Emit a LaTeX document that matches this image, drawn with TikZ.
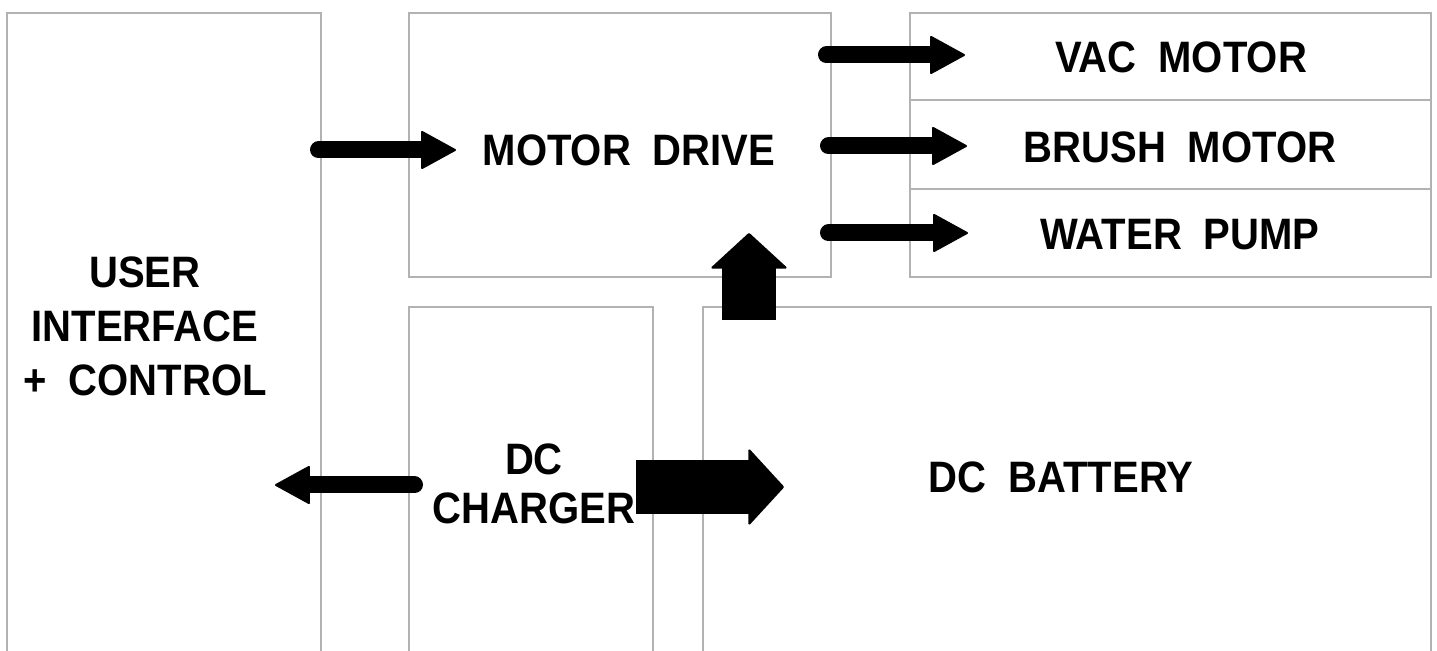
\documentclass[tikz,border=0pt]{standalone}
\usepackage{fontspec}
\newfontfamily\blockfont[FakeStretch=0.91]{Liberation Sans}
\usepackage{tikz}
\usetikzlibrary{
	arrows.meta,
	positioning
}
\definecolor{BoxGray}{RGB}{178,178,178}
\newcommand{\wgap}{\hspace{11pt}}

\begin{document}
\begin{tikzpicture}[x=0.5pt, y=-0.5pt,
	box/.style={draw=BoxGray, line width=1pt, inner sep=0pt, outer sep=0pt, anchor=north west},
	blocktext/.style={font=\blockfont\bfseries\fontsize{22}{27}\selectfont, align=center, inner sep=0pt},
	thinarrow/.style={line width=8.5pt, line cap=round, -{Triangle[length=18pt, width=19.5pt, round, line width=1pt]}},
	fatarrow/.style={line width=27pt, -{Triangle[length=18pt, width=39pt, round, line width=1pt]}}]
			\useasboundingbox (0,0) rectangle (1437,651);
			\clip (0,0) rectangle (1437,651);
			% blocks (the lower ones run off the page)
			\node[box, minimum width=157pt, minimum height=350pt] (ui) at (7,13) {};
			\node[box, minimum width=211pt, minimum height=132pt] (md) at (409,13) {};
			\node[box, minimum width=260.5pt, minimum height=43.5pt] (vac) at (910,13) {};
			\node[box, minimum width=260.5pt, minimum height=44.5pt] (brush) at (910,100) {};
			\node[box, minimum width=260.5pt, minimum height=44pt] (pump) at (910,189) {};
			\node[box, minimum width=122pt, minimum height=200pt] (chg) at (409,307) {};
			\node[box, minimum width=364pt, minimum height=200pt] (bat) at (703,307) {};
			% texts
			\node[blocktext] (ui text) at (145,326) {USER\\INTERFACE\\+\wgap CONTROL};
			\node[blocktext] (md text) at (629,150) {MOTOR\wgap DRIVE};
			\node[blocktext] (vac text) at (1181,57) {VAC\wgap MOTOR};
			\node[blocktext] (brush text) at (1180,147) {BRUSH\wgap MOTOR};
			\node[blocktext] (pump text) at (1180,235) {WATER\wgap PUMP};
			\node[blocktext, font=\blockfont\bfseries\fontsize{22}{24.5}\selectfont] (chg text) at (534,484) {DC\\CHARGER};
			\node[blocktext] (bat text) at (1061,477) {DC\wgap BATTERY};
			% arrow ends
			\coordinate (ui out) at (318.5,150);
			\coordinate (md in) at (456,150);
			\coordinate (md out1) at (826.5,55);
			\coordinate (vac in) at (965,55);
			\coordinate (md out2) at (828.5,146);
			\coordinate (brush in) at (967,146);
			\coordinate (md out3) at (828.5,233);
			\coordinate (pump in) at (968,233);
			\coordinate (chg out) at (414.5,485);
			\coordinate (ui in) at (275,485);
			\coordinate (bat up) at (749,320);
			\coordinate (md feed) at (749,233);
			\coordinate (chg feed) at (636,487);
			\coordinate (bat in) at (784,487);
			% connectors
			\draw[thinarrow] (ui out) -- (md in);
			\draw[thinarrow] (md out1) -- (vac in);
			\draw[thinarrow] (md out2) -- (brush in);
			\draw[thinarrow] (md out3) -- (pump in);
			\draw[thinarrow] (chg out) -- (ui in);
			\draw[fatarrow] (bat up) -- (md feed);
			\draw[fatarrow] (chg feed) -- (bat in);
		\end{tikzpicture}
\end{document}
